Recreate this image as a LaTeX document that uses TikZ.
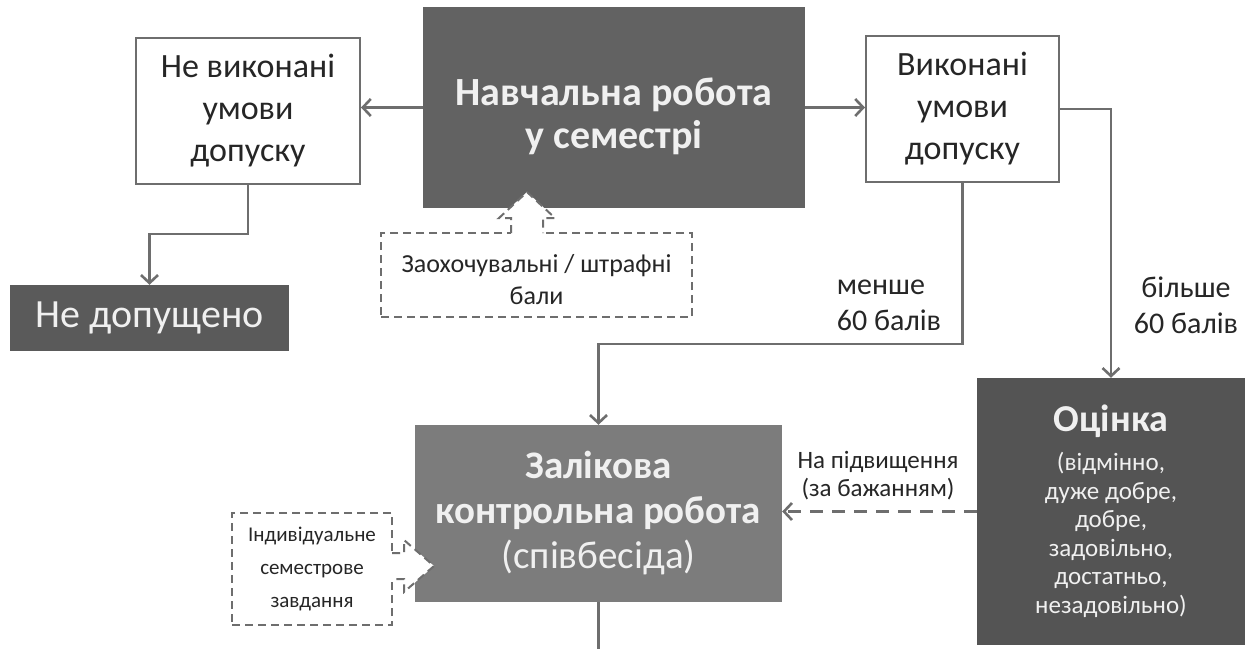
\documentclass[tikz,border=0pt]{standalone}
\usepackage{fontspec}
\setmainfont{Carlito}
\usetikzlibrary{arrows.meta}

\definecolor{linegray}{HTML}{6E6E6E}
\definecolor{textdark}{HTML}{262626}
\definecolor{studyfill}{HTML}{626262}
\definecolor{denyfill}{HTML}{5A5A5A}
\definecolor{testfill}{HTML}{7C7C7C}
\definecolor{markfill}{HTML}{545454}

\tikzset{
  plainbox/.style={draw=linegray, line width=2pt, fill=white, text=textdark,
    align=center, inner sep=0pt},
  darkbox/.style={fill=#1, text=white!94!black, align=center, inner sep=0pt},
  wire/.style={draw=linegray, line width=2.6pt},
  link/.style={wire, -{Straight Barb[length=8pt,width=17pt]}},
  hint/.style={draw=linegray, line width=2pt, dash pattern=on 8pt off 5pt,
    fill=white, text=textdark, align=center, inner sep=0pt},
  hintline/.style={draw=linegray, line width=2pt, dash pattern=on 8pt off 5pt},
  lbl/.style={text=textdark, align=center, inner sep=0pt},
}

\begin{document}
\begin{tikzpicture}[x=1pt, y=-1pt]
    \useasboundingbox (0,0) rectangle (1255,648);

    % Top row
    \node[darkbox=studyfill, minimum width=382pt, minimum height=201pt,
      font=\bfseries\fontsize{40}{43}\selectfont] (study) at (614,107.5)
      {\rule{0pt}{45pt}Навчальна робота\\у семестрі};
    \node[plainbox, minimum width=224pt, minimum height=146pt,
      font=\fontsize{34}{42}\selectfont] (nfb) at (248,111)
      {Не виконані\\умови\\допуску};
    \node[plainbox, minimum width=193pt, minimum height=146pt,
      font=\fontsize{34}{42}\selectfont] (fb) at (962.5,109)
      {Виконані\\умови\\допуску};
    \node[darkbox=denyfill, minimum width=279pt, minimum height=66pt,
      font=\fontsize{40}{44}\selectfont] (deny) at (149.5,318) {Не допущено};

    % Bonus / penalty callout
    \node[hint, minimum width=311pt, minimum height=84pt,
      font=\fontsize{26}{32}\selectfont] (bonus) at (536.5,275)
      {\rule{0pt}{28pt}Заохочувальні / штрафні\\бали};
    \fill[white] (511,235) -- (511,218) -- (499,218) -- (527,192)
      -- (555,218) -- (543,218) -- (543,235) -- cycle;
    \draw[hintline] (511,233) -- (511,218) -- (499,218) -- (527,192)
      -- (555,218) -- (543,218) -- (543,233);

    % Bottom row
    \node[darkbox=testfill, minimum width=367pt, minimum height=177pt,
      font=\fontsize{39}{45}\selectfont] (test) at (598.5,513.5)
      {\textbf{Залікова}\\\textbf{контрольна робота}\\(співбесіда)};
    \node[darkbox=markfill, minimum width=268pt, minimum height=267pt,
      font=\fontsize{25}{28.6}\selectfont] (mark) at (1111,511.5)
      {{\bfseries\fontsize{38}{42}\selectfont Оцінка}\\[10pt](відмінно,\\дуже добре,\\добре,\\задовільно,\\достатньо,\\незадовільно)};
    \coordinate (next) at (598.5,652);

    % Individual task callout
    \node[hint, minimum width=160pt, minimum height=112pt,
      font=\fontsize{21}{33}\selectfont] (task) at (312,569)
      {Індивідуальне\\семестрове\\завдання};
    \fill[white] (390,553) -- (404,553) -- (404,540) -- (434,566)
      -- (404,592) -- (404,579) -- (390,579) -- cycle;
    \draw[hintline] (392,553) -- (404,553) -- (404,540) -- (434,566)
      -- (404,592) -- (404,579) -- (392,579);

    % Connectors
    \draw[link] (study.west) -- (study.west -| nfb.east);
    \draw[link] (study.east) -- (study.east -| fb.west);
    \draw[link] (nfb.south) -- ++(0,49) -| (deny.north);
    \draw[link] (fb.south) -- ++(0,161) -| (test.north);
    \draw[link] (fb.east) -| (mark.north);
    \draw[link, dash pattern=on 13pt off 9pt] (mark.west) -- (mark.west -| test.east);
    \draw[wire] (test.south) -- (next);

    % Labels
    \node[lbl, align=left, font=\fontsize{30}{36}\selectfont] (less) at (889,305) {менше\\60 балів};
    \node[lbl, font=\fontsize{30}{36}\selectfont] (more) at (1186,305) {більше\\60 балів};
    \node[lbl, font=\fontsize{25}{28}\selectfont] (raise) at (878,476) {На підвищення\\(за бажанням)};
\end{tikzpicture}
\end{document}
